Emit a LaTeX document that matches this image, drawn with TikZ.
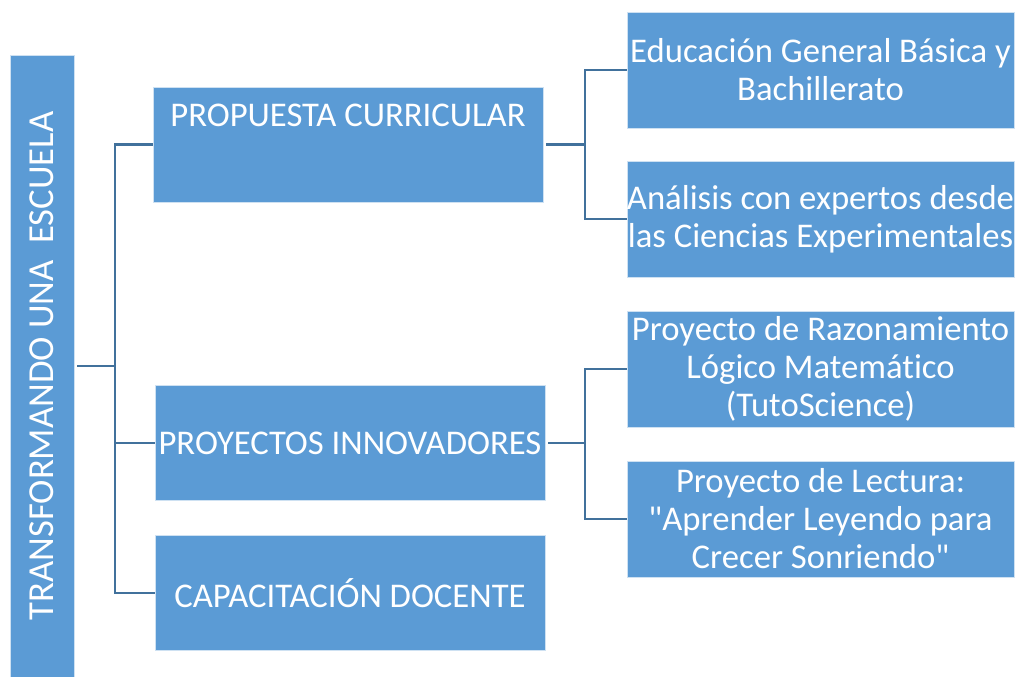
\documentclass[tikz,border=0pt]{standalone}
\usepackage{fontspec}
\setmainfont{Carlito}[Ligatures={CommonOff}]
\definecolor{boxblue}{HTML}{5B9BD5}
\definecolor{linkblue}{HTML}{41719C}
\begin{document}
\begin{tikzpicture}[x=0.75pt,y=-0.75pt,
  box/.style={fill=boxblue, draw=white!70!boxblue, line width=0.6pt, text=white, inner sep=0pt,
    font=\fontsize{26}{28.5}\selectfont, align=center},
  lvlone/.style={box, minimum width=292.5pt, minimum height=86.25pt},
  lvltwo/.style={box, minimum width=290.25pt, minimum height=87pt},
  link/.style={draw=linkblue, line width=2.2pt}]
\useasboundingbox (0,0) rectangle (1015,677);
\node[box, minimum width=48pt, minimum height=466.5pt, font=\fontsize{27.5}{30}\selectfont] (root) at (42,366) {\rotatebox{90}{TRANSFORMANDO UNA\ \ ESCUELA}};
\node[lvlone, text height=30pt, text depth=56.25pt] (p1) at (348,144.5) {PROPUESTA CURRICULAR};
\node[lvlone] (p2) at (350,443) {PROYECTOS INNOVADORES};
\node[lvlone] (p3) at (350,593) {CAPACITACIÓN DOCENTE};
\node[lvltwo] (r1) at (820.5,70) {Educación General Básica y\\Bachillerato};
\node[lvltwo] (r2) at (820.5,219) {Análisis con expertos desde\\las Ciencias Experimentales};
\node[lvltwo] (r3) at (820.5,369) {Proyecto de Razonamiento\\Lógico Matemático\\(TutoScience)};
\node[lvltwo] (r4) at (820.5,519) {Proyecto de Lectura:\\\textquotedbl Aprender Leyendo para\\Crecer Sonriendo\textquotedbl};
\coordinate (trunk) at (115,366);
\draw[link] ([xshift=2pt]root.east) -- (trunk);
\draw[link] (p1.west) -| (trunk) |- (p3.west);
\draw[link] (trunk |- p2.west) -- (p2.west);
\coordinate (fa) at (585,144.5);
\draw[link] ([xshift=2pt]p1.east) -- (fa);
\draw[link] (r1.west) -| (fa) |- (r2.west);
\coordinate (fb) at (585,443);
\draw[link] ([xshift=2pt]p2.east) -- (fb);
\draw[link] (r3.west) -| (fb) |- (r4.west);
\end{tikzpicture}
\end{document}
